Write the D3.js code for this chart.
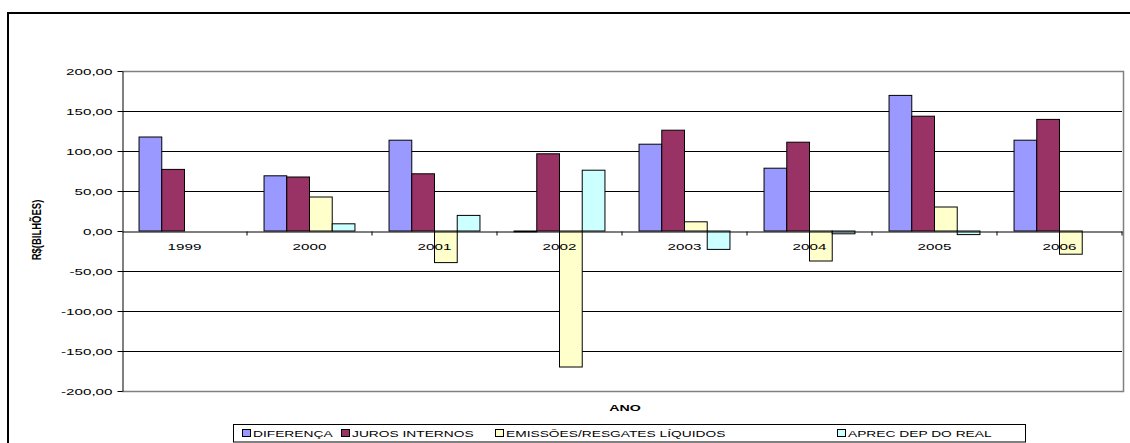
<!DOCTYPE html>
<html><head><meta charset="utf-8">
<script src="https://cdn.jsdelivr.net/npm/d3@7"></script>
<style>body{margin:0;background:#fff}svg{display:block}text{font-family:"Liberation Sans",Arial,sans-serif;fill:#000}</style>
</head><body><svg id="c" width="1130" height="443"></svg>
<script>
const years = ["1999","2000","2001","2002","2003","2004","2005","2006"];
const seriesNames = ["DIFERENÇA","JUROS INTERNOS","EMISSÕES/RESGATES LÍQUIDOS","APREC DEP DO REAL"];
const diferenca = [117.5, 69.0, 113.5, -1.0, 108.5, 78.5, 169.5, 113.5];
const juros = [77.0, 67.5, 71.5, 96.5, 126.0, 111.0, 143.5, 139.5];
const emissoes = [0, 42.5, -39.5, -170.0, 11.5, -37.5, 30.0, -29.0];
const aprec = [0, 9.0, 19.5, 76.0, -23.0, -3.5, -4.5, 0];
const yTicks = [-200,-150,-100,-50,0,50,100,150,200];
const colors = ["#9999FF","#993366","#FFFFCC","#CCFFFF"];

const seriesValues = [diferenca, juros, emissoes, aprec];
const svg = d3.select("#c");
const L = 122, R = 1122, T = 71, B = 391;
const loc = d3.formatLocale({decimal:",", thousands:".", grouping:[3], currency:["R$",""], minus:"-"});
const fmt = loc.format(".2f");

const y = d3.scaleLinear().domain([-200,200]).range([B,T]);
const x0 = d3.scaleBand().domain(years).range([L,R]).padding(0);
const step = x0.step(), gap = step*1.5/5.5;
const x1 = d3.scaleBand().domain(seriesNames).range([gap/2, step-gap/2]).padding(0);

// outer border
svg.append("rect").attr("x",8).attr("y",13).attr("width",1200).attr("height",500)
  .attr("fill","none").attr("stroke","#000").attr("stroke-width",2);

// gridlines
svg.append("g").selectAll("line").data(yTicks.filter(d=>d!==0)).join("line")
  .attr("x1",L).attr("x2",R).attr("y1",d=>Math.round(y(d))+0.5).attr("y2",d=>Math.round(y(d))+0.5)
  .attr("stroke","#000").attr("stroke-width",1);
// plot frame (gray)
svg.append("path").attr("d",`M${L},${T+0.5}H${R+1.5}V${B+0.5}H${L}`).attr("fill","none").attr("stroke","#808080").attr("stroke-width",1.5);

// y axis
const ya = svg.append("g").attr("transform",`translate(${L+0.5},0)`)
  .call(d3.axisLeft(y).tickValues(yTicks).tickFormat(fmt).tickSize(5).tickSizeOuter(0));
ya.select(".domain").attr("stroke","#000");
ya.selectAll(".tick line").attr("stroke","#000");
ya.selectAll(".tick text").attr("x",0).attr("dy","0.34em")
  .attr("transform","translate(-10,0) scale(1.6,1)").style("font-size","9.5px").attr("font-family",null);

// bars
const rows = years.map((yr,i)=>({year:yr, vals:seriesNames.map((s,j)=>({s, j, v:seriesValues[j][i]}))}));
const g = svg.append("g");
g.selectAll("g").data(rows).join("g").attr("transform",d=>`translate(${x0(d.year)},0)`)
  .selectAll("rect").data(d=>d.vals.filter(v=>v.v!==0)).join("rect")
  .attr("x",d=>x1(d.s)).attr("width",x1.bandwidth())
  .attr("y",d=>y(Math.max(0,d.v))).attr("height",d=>Math.max(0.5,Math.abs(y(d.v)-y(0))))
  .attr("fill",d=>colors[d.j]).attr("stroke","#000").attr("stroke-width",1);

// x axis at zero
const xa = svg.append("g").attr("transform",`translate(0,${Math.round(y(0))+0.5})`)
  .call(d3.axisBottom(x0).tickSize(0).tickSizeOuter(0));
xa.select(".domain").attr("stroke","#000").attr("stroke-width",1.2);
xa.selectAll(".tick text").attr("y",0).attr("dy",0)
  .attr("transform","translate(0,18) scale(1.6,1)").style("font-size","9.5px").attr("font-family",null);
// category boundary ticks
xa.append("g").selectAll("line").data(years.slice(1).concat(["end"])).join("line")
  .attr("x1",d=>d==="end"?R:x0(d)).attr("x2",d=>d==="end"?R:x0(d)).attr("y1",0).attr("y2",4).attr("stroke","#000");

// y title
svg.append("text").attr("transform","translate(41,230) scale(1.4,1) rotate(-90)")
  .attr("text-anchor","middle").style("font-size","9.5px").style("font-weight","bold").text("R$(BILHÕES)");
// x title
svg.append("text").attr("transform",`translate(${(L+R)/2+3},411) scale(1.5,1)`)
  .attr("text-anchor","middle").style("font-size","9.5px").style("font-weight","bold").text("ANO");

// legend
const lg = svg.append("g");
lg.append("rect").attr("x",233.5).attr("y",424.5).attr("width",792).attr("height",17.5)
  .attr("fill","#fff").attr("stroke","#000").attr("stroke-width",1);
const legX = [242, 341, 495, 837];
const items = lg.selectAll("g.it").data(seriesNames).join("g").attr("class","it")
  .attr("transform",(d,i)=>`translate(${legX[i]},0)`);
items.append("rect").attr("x",0.5).attr("y",429.5).attr("width",8).attr("height",7)
  .attr("fill",(d,i)=>colors[i]).attr("stroke","#000").attr("stroke-width",1);
items.append("text").attr("transform","translate(11,437) scale(1.45,1)")
  .style("font-size","9.5px").text(d=>d);
</script></body></html>
